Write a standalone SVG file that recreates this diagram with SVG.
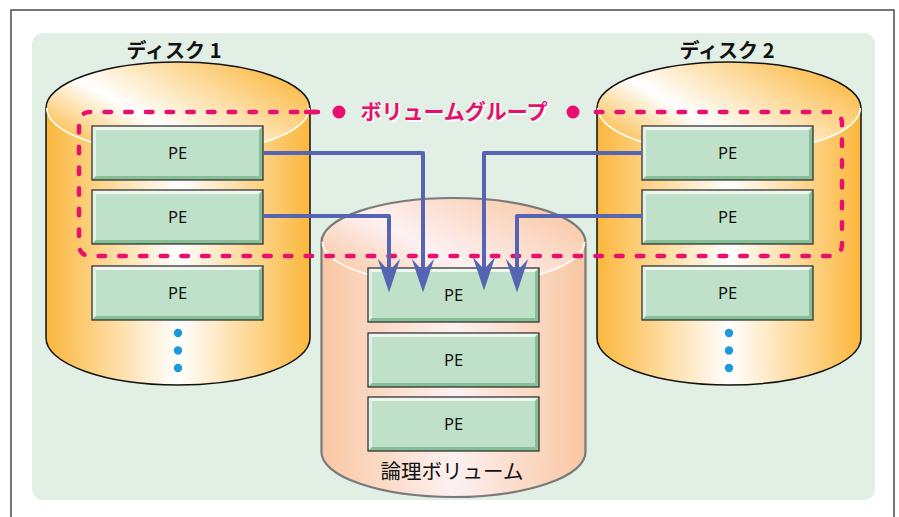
<svg xmlns="http://www.w3.org/2000/svg" width="899" height="517" viewBox="0 0 899 517">
  <style>
    .frame { fill: #ffffff; stroke: #4a4a4a; stroke-width: 1.5; }
    .panel { fill: #e1efe5; }
    .disk-outline { fill: none; stroke: #111; stroke-width: 1.5; }
    .lv-outline { fill: none; stroke: #7a7a7a; stroke-width: 2.2; }
    .rim { fill: none; stroke: #ffffff; stroke-width: 1.5; }
    .pe-text { font-family: "Noto Sans", "Liberation Sans", sans-serif; font-size: 16.5px; fill: #111; text-anchor: middle; }
    .disk-label { font-family: "Noto Sans CJK JP", "Noto Sans", sans-serif; font-size: 20px; font-weight: bold; fill: #111; text-anchor: middle; }
    .lv-label { font-family: "Noto Sans CJK JP", "Noto Sans", sans-serif; font-size: 20.5px; fill: #111; text-anchor: middle; }
    .vg-label { font-family: "Noto Sans CJK JP", "Noto Sans", sans-serif; font-size: 21px; font-weight: bold; text-anchor: middle; }
    .vg-line { fill: none; stroke: #e8106e; stroke-width: 4.5; stroke-linecap: round; stroke-dasharray: 6.5 14.2; }
    .dot { fill: #1a9ad8; }
    .link { fill: none; stroke: #5565b3; stroke-width: 4; stroke-linejoin: round; marker-end: url(#arrow); }
  </style>
  <defs>
    <linearGradient id="diskSide" x1="0" y1="0" x2="1" y2="0">
      <stop offset="0" stop-color="#fbb73c"/>
      <stop offset="0.5" stop-color="#ffffff"/>
      <stop offset="1" stop-color="#fbb73c"/>
    </linearGradient>
    <linearGradient id="diskTop" x1="0" y1="0.8" x2="1" y2="0.2">
      <stop offset="0" stop-color="#fbb73c"/>
      <stop offset="0.36" stop-color="#ffffff"/>
      <stop offset="1" stop-color="#fbb73c"/>
    </linearGradient>
    <linearGradient id="lvSide" x1="0" y1="0" x2="1" y2="0">
      <stop offset="0" stop-color="#f9c7a2"/>
      <stop offset="0.5" stop-color="#fdf1f1"/>
      <stop offset="1" stop-color="#f9c7a2"/>
    </linearGradient>
    <linearGradient id="lvTop" x1="0" y1="0.8" x2="1" y2="0.2">
      <stop offset="0" stop-color="#f9c7a2"/>
      <stop offset="0.4" stop-color="#fdf1f3"/>
      <stop offset="1" stop-color="#f9c7a2"/>
    </linearGradient>
    <marker id="arrow" markerUnits="userSpaceOnUse" markerWidth="40" markerHeight="40" viewBox="-20 -12 32 24" refX="0" refY="0" orient="auto">
      <path d="M10,0 L-17,-9 L-7,0 L-17,9 Z" fill="#5565b3"/>
    </marker>
    <!-- bevelled physical-extent box, 171 x 54 -->
    <g id="pe-box">
      <rect x="0" y="0" width="171" height="54" fill="#c0e1c9"/>
      <polygon points="0,0 171,0 167,4 4,4" fill="#eef7f0"/>
      <polygon points="0,0 4,4 4,50 0,54" fill="#e2f1e6"/>
      <polygon points="171,0 171,54 167,50 167,4" fill="#86bf95"/>
      <polygon points="0,54 171,54 167,50 4,50" fill="#86bf95"/>
      <rect x="0" y="0" width="171" height="54" fill="none" stroke="#333" stroke-width="1.3"/>
    </g>
  </defs>

  <rect class="frame" x="11" y="10" width="883" height="530"/>
  <rect class="panel" x="32" y="33" width="843" height="467" rx="11"/>

  <!-- Disk 1 -->
  <g id="disk1">
    <path d="M46,108 L46,338 A132,47 0 0 0 310,338 L310,108 Z" fill="url(#diskSide)"/>
    <path class="disk-outline" d="M46,108 L46,338 A132,47 0 0 0 310,338 L310,108"/>
    <ellipse cx="178" cy="108" rx="132" ry="46" fill="url(#diskTop)"/>
    <path class="disk-outline" d="M46,108 A132,46 0 0 1 310,108"/>
    <path class="rim" d="M46.8,108 A131.2,45.2 0 0 0 309.2,108"/>
    <text class="disk-label" x="174" y="58">ディスク 1</text>
    <circle class="dot" cx="178" cy="333" r="4.2"/>
    <circle class="dot" cx="178" cy="350.5" r="4.2"/>
    <circle class="dot" cx="178" cy="368" r="4.2"/>
  </g>

  <!-- Disk 2 -->
  <g id="disk2">
    <path d="M597,108 L597,338 A132,47 0 0 0 861,338 L861,108 Z" fill="url(#diskSide)"/>
    <path class="disk-outline" d="M597,108 L597,338 A132,47 0 0 0 861,338 L861,108"/>
    <ellipse cx="729" cy="108" rx="132" ry="46" fill="url(#diskTop)"/>
    <path class="disk-outline" d="M597,108 A132,46 0 0 1 861,108"/>
    <path class="rim" d="M597.8,108 A131.2,45.2 0 0 0 860.2,108"/>
    <text class="disk-label" x="727" y="58">ディスク 2</text>
    <circle class="dot" cx="729" cy="333" r="4.2"/>
    <circle class="dot" cx="729" cy="350.5" r="4.2"/>
    <circle class="dot" cx="729" cy="368" r="4.2"/>
  </g>

  <!-- Logical volume -->
  <g id="logical-volume">
    <path d="M321.5,242 L321.5,452 A132,45 0 0 0 585.5,452 L585.5,242 Z" fill="url(#lvSide)"/>
    <path class="lv-outline" d="M321.5,242 L321.5,452 A132,45 0 0 0 585.5,452 L585.5,242"/>
    <ellipse cx="453.5" cy="242" rx="132" ry="44" fill="url(#lvTop)"/>
    <path class="lv-outline" d="M321.5,242 A132,44 0 0 1 585.5,242"/>
    <path class="rim" d="M322.6,242 A130.9,42.9 0 0 0 584.4,242"/>
    <text class="lv-label" x="452" y="479">論理ボリューム</text>
  </g>

  <!-- Physical extents on disk 1 -->
  <g id="d1-pe1"><use href="#pe-box" x="92" y="126"/><text class="pe-text" x="177.5" y="159">PE</text></g>
  <g id="d1-pe2"><use href="#pe-box" x="92" y="190"/><text class="pe-text" x="177.5" y="223">PE</text></g>
  <g id="d1-pe3"><use href="#pe-box" x="92" y="266"/><text class="pe-text" x="177.5" y="299">PE</text></g>

  <!-- Physical extents on disk 2 -->
  <g id="d2-pe1"><use href="#pe-box" x="642" y="126"/><text class="pe-text" x="727.5" y="159">PE</text></g>
  <g id="d2-pe2"><use href="#pe-box" x="642" y="190"/><text class="pe-text" x="727.5" y="223">PE</text></g>
  <g id="d2-pe3"><use href="#pe-box" x="642" y="266"/><text class="pe-text" x="727.5" y="299">PE</text></g>

  <!-- Extents in the logical volume -->
  <g id="lv-pe1"><use href="#pe-box" x="368" y="268"/><text class="pe-text" x="453.5" y="301">PE</text></g>
  <g id="lv-pe2"><use href="#pe-box" x="368" y="333"/><text class="pe-text" x="453.5" y="366">PE</text></g>
  <g id="lv-pe3"><use href="#pe-box" x="368" y="397"/><text class="pe-text" x="453.5" y="430">PE</text></g>

  <!-- Volume group boundary -->
  <g id="volume-group">
    <path class="vg-line" d="M318,112 L91,112 Q79,112 79,124 L79,244 Q79,256 91,256 L830,256 Q842,256 842,244 L842,124 Q842,112 830,112 L584,112"/>
    <line x1="306" y1="112" x2="316" y2="112" stroke="#e8106e" stroke-width="4.5" stroke-linecap="round"/>
    <circle cx="339" cy="112" r="6.5" fill="#e8106e"/>
    <circle cx="573" cy="112" r="6.5" fill="#e8106e"/>
    <text class="vg-label" x="455.5" y="120.5" fill="#ffffff">ボリュームグループ</text>
    <text class="vg-label" x="454" y="119" fill="#e5106e">ボリュームグループ</text>
  </g>

  <!-- Extent mappings -->
  <g id="connectors">
    <path class="link" d="M263,153 H423 V280"/>
    <path class="link" d="M263,216 H389 V280"/>
    <path class="link" d="M642,153 H484 V278"/>
    <path class="link" d="M642,216 H517 V280"/>
  </g>
</svg>
